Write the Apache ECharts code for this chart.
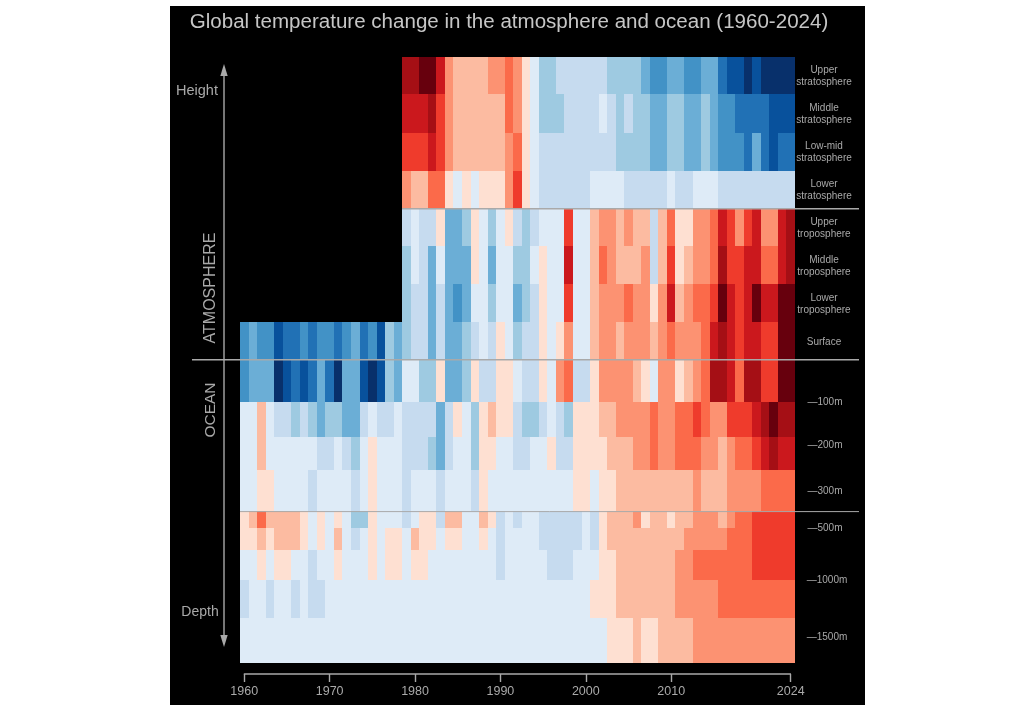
<!DOCTYPE html>
<html>
<head>
<meta charset="utf-8">
<style>html,body{margin:0;padding:0;background:#fff}#c{width:1024px;height:709px}</style>
<script src="https://cdn.jsdelivr.net/npm/echarts@6/dist/echarts.min.js"></script>
</head>
<body>
<div id="c"></div>
<script>
// Warming-stripe levels: negative = cooler (blues), positive = warmer (reds)
const titleText = 'Global temperature change in the atmosphere and ocean (1960-2024)';
const tickYears = [1960, 1970, 1980, 1990, 2000, 2010, 2024];
const rightLabels = ['Upper\nstratosphere','Middle\nstratosphere','Low-mid\nstratosphere','Lower\nstratosphere','Upper\ntroposphere','Middle\ntroposphere','Lower\ntroposphere','Surface'];
const depthLabels = ['—100m','—200m','—300m','—500m','—1000m','—1500m'];

// rows beginning in 1979
const upperStrat = [7,7,8,8,6,3,2,2,2,2,3,3,4,3,1,-2,-4,-4,-3,-3,-3,-3,-3,-3,-4,-4,-4,-4,-5,-6,-6,-5,-5,-6,-6,-5,-5,-7,-8,-8,-9,-8,-9,-9,-9,-9];
const middleStrat = [6,6,6,7,5,3,2,2,2,2,2,2,4,3,1,-2,-4,-4,-4,-3,-3,-3,-3,-2,-3,-4,-3,-4,-4,-5,-5,-4,-4,-5,-5,-4,-5,-6,-6,-7,-7,-7,-7,-8,-8,-8];
const lowMidStrat = [5,5,5,6,5,3,2,2,2,2,2,2,3,4,1,-2,-3,-3,-3,-3,-3,-3,-3,-3,-3,-4,-4,-4,-4,-5,-5,-4,-4,-5,-5,-4,-5,-6,-6,-6,-7,-5,-7,-8,-7,-7];
const lowerStrat = [3,2,2,4,4,1,-2,1,-2,1,1,1,3,5,1,-2,-3,-3,-3,-3,-3,-3,-2,-2,-2,-2,-3,-3,-3,-3,-3,-2,-3,-3,-2,-2,-2,-3,-3,-3,-3,-3,-3,-3,-3,-3];
const upperTropo = [-3,-2,-3,-3,1,-5,-5,-4,1,-2,-4,-2,1,-3,-4,-3,-2,-2,-2,5,-2,-2,2,3,3,2,3,2,2,-3,2,4,1,1,3,3,4,6,5,3,5,6,3,3,6,7];
const middleTropo = [-4,-2,-3,-5,-2,-5,-5,-5,1,-2,-5,-2,-2,-4,-4,-2,1,-2,-2,6,-2,-2,2,4,3,2,2,2,3,-3,2,5,1,2,3,3,4,7,5,5,6,6,4,4,6,7];
const lowerTropo = [-4,-3,-3,-5,-3,-5,-6,-5,-2,-2,-4,-2,-2,-5,-4,-3,1,-2,-2,5,-2,-2,2,3,3,3,4,3,3,1,3,6,2,3,4,4,5,8,6,5,6,8,6,6,8,8];

// rows beginning in 1960
const surface = [
  -6,-5,-6,-6,-8,-7,-7,-6,-7,-6,
  -6,-7,-6,-5,-7,-6,-8,-4,-5,-4,
  -3,-3,-5,-3,-5,-5,-4,-3,-2,-3,
  1,-2,-4,-3,-3,1,-2,1,3,-2,
  -2,2,3,3,2,3,3,3,2,3,
  4,3,3,3,4,6,7,6,5,6,
  6,5,5,8,8];
const ocean100 = [
  -6,-5,-5,-5,-9,-8,-7,-8,-7,-5,
  -7,-9,-5,-5,-8,-9,-8,-4,-5,-2,
  -2,-4,-4,1,-5,-5,-4,1,-3,-3,
  1,1,-2,-3,-3,1,-2,3,4,-3,
  -3,1,3,3,3,3,2,1,-2,3,
  3,1,2,3,4,7,7,6,4,7,
  7,5,5,8,8];
const ocean200 = [
  -2,-2,2,-2,-3,-3,-4,-3,-4,-5,
  -4,-4,-5,-5,-3,-2,-3,-3,-2,-3,
  -3,-3,-3,-5,-3,1,-2,-4,1,2,
  1,1,-3,-4,-4,-3,-2,-3,-4,1,
  1,1,2,2,3,3,3,3,4,3,
  3,4,4,5,4,3,3,5,5,5,
  6,7,8,7,7];
const ocean300 = [
  -2,-2,2,-2,-2,-2,-2,-2,-2,-3,
  -3,-2,-3,-4,-2,1,-2,-2,-2,-3,
  -3,-3,-4,-5,-3,-2,-2,-4,1,1,
  -2,-2,-3,-3,-2,-2,1,-3,-3,1,
  1,1,1,2,2,2,3,3,4,3,
  3,4,4,4,3,3,2,3,4,4,
  5,6,7,6,6];
const ocean400 = [
  -2,-2,1,1,-2,-2,-2,-2,-3,-2,
  -2,-2,-2,-3,-2,1,-2,-2,-2,-3,
  -2,-2,-2,-3,-2,-2,-2,-3,1,-2,
  -2,-2,-2,-2,-2,-2,-2,-2,-2,1,
  1,-2,1,1,2,2,2,2,2,2,
  2,2,2,3,2,2,2,3,3,3,
  3,4,4,4,4];
const deepA = [
  1,2,4,2,2,2,2,1,-2,1,
  -2,1,-2,-4,-4,1,-2,-2,-2,-3,
  -2,1,1,-3,2,2,-2,-2,2,1,
  -3,-2,-3,-2,-2,-3,-3,-3,-3,-3,
  -2,-3,1,2,2,2,3,1,2,2,
  1,2,2,3,3,3,2,3,4,4,
  5,5,5,5,5];
const deepB = [
  1,1,2,1,2,2,2,1,-2,1,
  -2,2,-2,-3,-2,1,-2,1,1,-2,
  2,1,1,-2,1,1,-2,-2,1,-2,
  -3,-2,-2,-2,-2,-3,-3,-3,-3,-3,
  -2,-3,1,2,2,2,2,2,2,2,
  2,2,3,3,3,3,3,4,4,4,
  5,5,5,5,5];
const deepC = [
  -2,-2,1,-2,1,1,-2,-2,-3,-2,
  -2,1,-2,-2,-2,1,-2,1,1,-2,
  1,1,-2,-2,-2,-2,-2,-2,-2,-2,
  -3,-2,-2,-2,-2,-2,-3,-3,-3,-2,
  -2,-2,1,1,2,2,2,2,2,2,
  2,3,3,4,4,4,4,4,4,4,
  5,5,5,5,5];
const deepD = [
  -3,-2,-2,-3,-2,-2,-3,-2,-3,-3,
  -2,-2,-2,-2,-2,-2,-2,-2,-2,-2,
  -2,-2,-2,-2,-2,-2,-2,-2,-2,-2,
  -2,-2,-2,-2,-2,-2,-2,-2,-2,-2,
  -2,1,1,1,2,2,2,2,2,2,
  2,3,3,3,3,3,4,4,4,4,
  4,4,4,4,4];
const deepE = [
  -2,-2,-2,-2,-2,-2,-2,-2,-2,-2,
  -2,-2,-2,-2,-2,-2,-2,-2,-2,-2,
  -2,-2,-2,-2,-2,-2,-2,-2,-2,-2,
  -2,-2,-2,-2,-2,-2,-2,-2,-2,-2,
  -2,-2,-2,1,1,1,2,1,1,2,
  2,2,2,3,3,3,3,3,3,3,
  3,3,3,3,3];

const rows = [upperStrat,middleStrat,lowMidStrat,lowerStrat,upperTropo,middleTropo,lowerTropo,surface,ocean100,ocean200,ocean300,ocean400,deepA,deepB,deepC,deepD,deepE];
// relative thickness of each layer on the vertical scale
const layerThickness = [37.3,38.7,38,37.3,38.3,38,37.4,38.3,41.7,35.6,32.7,41,16.7,22.3,29.7,38,45.3];

const palette = {
  '-9':'#08306b','-8':'#08519c','-7':'#2171b5','-6':'#4292c6','-5':'#6baed6','-4':'#9ecae1','-3':'#c6dbef','-2':'#deebf7',
  '1':'#fee0d2','2':'#fcbba1','3':'#fc9272','4':'#fb6a4a','5':'#ef3b2c','6':'#cb181d','7':'#a50f15','8':'#67000d'
};

const edges = [0];
layerThickness.forEach(t => edges.push(edges[edges.length-1] + t));
const LAST_YEAR = 2024;
const cells = [];
rows.forEach((vals, r) => {
  const start = LAST_YEAR - vals.length + 1;
  vals.forEach((v, i) => cells.push([start + i, r, v]));
});

const GREY = '#a9a9a9';
const txt = (x, y, text, size, extra) => ({
  type:'text', x, y, z:20, silent:true,
  style:Object.assign({text, fill:GREY, fontFamily:'Liberation Sans, Arial, sans-serif', fontSize:size, align:'center', verticalAlign:'middle', lineHeight:12.5}, extra||{})
});
const line = (x1,y1,x2,y2,w) => ({type:'line', z:15, silent:true, shape:{x1,y1,x2,y2}, style:{stroke:GREY, lineWidth:w}});

const rightYs = [76,114,152,190,228,266,304,342];
const depthYs = [402,445,491,528,580,637];
const graphics = [
  {type:'rect', z:-1, silent:true, shape:{x:170,y:6,width:695,height:699}, style:{fill:'#000'}},
  txt(509,22,titleText,20.55,{fill:'#c6c6c6'}),
  line(402,208.7,859,208.7,1.6),
  line(192,359.8,859,359.8,1.6),
  line(240,511.6,859,511.6,1),
  line(243.8,674,791,674,1.4),
  line(224,72,224,638,1.4),
  {type:'polygon', z:15, silent:true, shape:{points:[[224,64],[220.3,76],[227.7,76]]}, style:{fill:GREY}},
  {type:'polygon', z:15, silent:true, shape:{points:[[224,647],[220.3,635],[227.7,635]]}, style:{fill:GREY}},
  txt(197,91,'Height',14.5),
  txt(200,612,'Depth',14),
  Object.assign(txt(210.5,288,'ATMOSPHERE',16),{rotation:Math.PI/2}),
  Object.assign(txt(210.5,410,'OCEAN',15.5),{rotation:Math.PI/2})
];
rightLabels.forEach((t,i)=>graphics.push(txt(824,rightYs[i],t,10)));
depthLabels.forEach((t,i)=>graphics.push(txt(t.length>5?827:825,depthYs[i],t,10)));

const chart = echarts.init(document.getElementById('c'), null, {renderer:'canvas', width:1024, height:709});
chart.setOption({
  backgroundColor:'#fff',
  animation:false,
  grid:{left:240, width:555, top:56.7, height:606.3, containLabel:false},
  xAxis:{
    type:'value', min:1959.5, max:2024.5, offset:11, position:'bottom',
    splitLine:{show:false}, axisLine:{show:false, onZero:false},
    axisTick:{show:true, customValues:tickYears, length:8, lineStyle:{color:GREY,width:1.4}},
    axisLabel:{customValues:tickYears, color:GREY, fontSize:12.5, fontFamily:'Liberation Sans, Arial, sans-serif', margin:11, formatter:v=>String(v)}
  },
  yAxis:{type:'value', min:0, max:edges[edges.length-1], inverse:true, show:false},
  graphic:graphics,
  series:[{
    type:'custom',
    coordinateSystem:'cartesian2d',
    encode:{x:0, y:1},
    data:cells,
    clip:false,
    renderItem:function(params, api){
      const year = api.value(0), r = api.value(1), lv = api.value(2);
      const p0 = api.coord([year-0.5, edges[r]]);
      const p1 = api.coord([year+0.5, edges[r+1]]);
      const x0 = Math.round(p0[0]), x1 = Math.round(p1[0]), y0 = Math.round(p0[1]), y1 = Math.round(p1[1]);
      return {type:'rect', shape:{x:x0,y:y0,width:x1-x0,height:y1-y0}, style:{fill:palette[String(lv)]}};
    }
  }]
});
</script>
</body>
</html>
